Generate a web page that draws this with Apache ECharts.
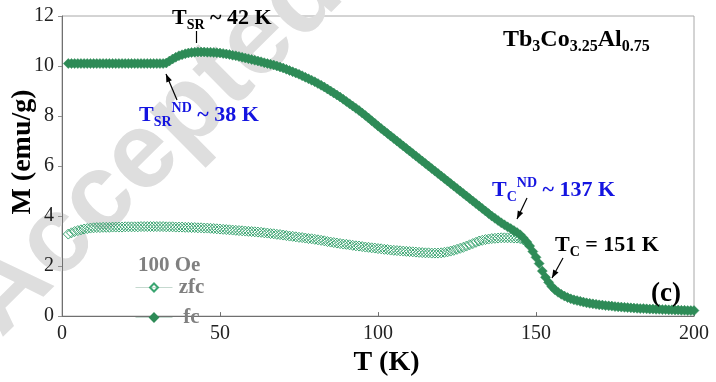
<!DOCTYPE html>
<html><head><meta charset="utf-8">
<script src="https://cdn.jsdelivr.net/npm/echarts@6/dist/echarts.min.js"></script>
<style>html,body{margin:0;padding:0;background:#fff}#c{width:716px;height:382px}</style>
</head><body><div id="c"></div>
<script>
// Temperature grid (K)
const tempsK = [2,3,4,5,6,7,8,9,10,11,12,13,14,15,16,17,18,19,20,21,22,23,24,25,26,27,28,29,30,31,32,33,34,35,36,37,38,39,40,41,42,43,44,45,46,47,48,49,50,51,52,53,54,55,56,57,58,59,60,61,62,63,64,65,66,67,68,69,70,71,72,73,74,75,76,77,78,79,80,81,82,83,84,85,86,87,88,89,90,91,92,93,94,95,96,97,98,99,100,101,102,103,104,105,106,107,108,109,110,111,112,113,114,115,116,117,118,119,120,121,122,123,124,125,126,127,128,129,130,131,132,133,134,135,136,137,138,139,140,141,142,143,144,145,146,147,148,149,150,151,152,153,154,155,156,157,158,159,160,161,162,163,164,165,166,167,168,169,170,171,172,173,174,175,176,177,178,179,180,181,182,183,184,185,186,187,188,189,190,191,192,193,194,195,196,197,198,199,200];
// Field-cooled magnetization (emu/g)
const fcM = [10.1,10.1,10.1,10.1,10.1,10.1,10.1,10.1,10.1,10.1,10.1,10.1,10.1,10.1,10.1,10.1,10.1,10.1,10.1,10.1,10.1,10.1,10.1,10.1,10.1,10.1,10.1,10.1,10.1,10.1,10.1,
10.12,10.2,10.28,10.35,10.41,10.45,10.49,10.52,10.54,10.55,10.56,10.56,10.56,10.55,10.55,10.54,10.53,10.52,10.5,10.48,10.46,10.43,10.41,10.38,10.35,10.32,10.29,10.26,10.23,10.2,10.17,10.13,10.1,10.07,10.04,10.0,9.96,9.92,9.87,9.82,9.77,9.72,9.67,9.61,9.55,9.49,9.43,9.37,9.3,9.23,9.16,9.08,9.0,8.92,8.84,8.76,8.67,8.58,8.49,8.4,8.31,8.22,8.12,8.02,7.92,7.81,7.71,
7.6,7.5,7.4,7.3,7.2,7.1,7.0,6.9,6.8,6.7,6.6,6.5,6.4,6.3,6.2,6.1,6.0,5.9,5.8,5.7,5.6,5.5,5.4,5.3,5.2,5.1,5.0,4.9,4.8,4.7,4.6,4.5,4.4,4.3,4.2,4.1,4.0,
3.91,3.82,3.73,3.65,3.57,3.5,3.42,3.34,3.25,3.12,2.97,2.8,2.58,2.35,2.1,1.8,1.55,1.35,1.18,1.05,0.95,0.87,0.8,0.74,0.69,0.65,0.62,0.59,0.56,0.53,0.51,0.49,0.47,0.45,0.44,0.42,0.41,0.4,0.38,0.37,0.36,0.35,0.34,0.33,0.32,0.31,0.3,0.3,0.29,0.28,0.28,0.27,0.27,0.26,0.26,0.25,0.25,0.24,0.24,0.23,0.23,0.22,0.22,0.22];
// Zero-field-cooled magnetization (emu/g), T = 2..147 K
const zfcM = [3.28,3.33,3.38,3.42,3.45,3.48,3.5,3.52,3.53,3.54,3.54,3.55,3.55,3.55,3.56,3.56,3.56,3.56,3.57,3.57,3.57,3.57,3.57,3.58,3.58,3.58,3.58,3.58,3.58,3.58,3.58,3.57,3.57,3.57,3.56,3.56,3.56,3.55,3.55,3.54,3.54,3.53,3.53,3.52,3.52,3.51,3.5,3.49,3.48,3.47,3.46,3.45,3.44,3.43,3.42,3.41,3.4,3.39,3.38,3.37,3.36,3.35,3.33,3.32,3.3,3.29,3.27,3.26,3.24,3.22,3.2,3.19,3.17,3.15,3.14,3.12,3.1,3.09,3.07,3.05,3.03,3.01,2.98,2.96,2.94,2.92,2.9,2.88,2.87,2.85,2.83,2.81,2.8,2.78,2.76,2.75,2.73,2.72,2.7,2.69,2.67,2.66,2.64,2.63,2.62,2.61,2.6,2.59,2.58,2.57,2.56,2.55,2.54,2.53,2.53,2.52,2.52,2.52,2.53,2.55,2.57,2.6,2.63,2.67,2.71,2.75,2.8,2.85,2.9,2.95,3.0,3.03,3.06,3.08,3.1,3.11,3.12,3.13,3.13,3.13,3.13,3.12,3.12,3.1,3.05,2.95];
const seriesNames = ['zfc', 'fc'];
const fieldLabel = '100 Oe';
const xTicks = {min: 0, max: 200, interval: 50};
const yTicks = {min: 0, max: 12, interval: 2};

const zfcData = zfcM.map((m, i) => [tempsK[i], m]);
const fcData = fcM.map((m, i) => [tempsK[i], m]);

const FF = 'Liberation Serif';
const SERIF = '"Liberation Serif", serif';
const BLUE = '#1414e0';
const GREEN = '#2e8b57';
const ZGREEN = '#3aa571';

function richStyle(main, sub, lh) {
  return {
    m: {fontSize: main, fontWeight: 'bold', fontFamily: FF, lineHeight: lh, verticalAlign: 'middle'},
    b: {fontSize: sub, fontWeight: 'bold', fontFamily: FF, verticalAlign: 'bottom'},
    p: {fontSize: sub, fontWeight: 'bold', fontFamily: FF, verticalAlign: 'top'}
  };
}
function label(text, x, y, color, main, sub, lh) {
  return {type: 'text', x: x, y: y, z: 20, silent: true,
    style: {text: text, fill: color, rich: richStyle(main, sub, lh), align: 'left', verticalAlign: 'top',
      font: 'bold ' + main + 'px ' + SERIF}};
}
function arrow(x1, y1, x2, y2, head) {
  const els = [{type: 'line', z: 20, silent: true, shape: {x1, y1, x2, y2}, style: {stroke: '#000', lineWidth: 1.2}}];
  if (head) {
    const a = Math.atan2(y2 - y1, x2 - x1), L = 8, W = 3;
    const bx = x2 - L * Math.cos(a), by = y2 - L * Math.sin(a);
    els.push({type: 'polygon', z: 20, silent: true, shape: {points: [[x2, y2],
      [bx + W * Math.sin(a), by - W * Math.cos(a)], [bx - W * Math.sin(a), by + W * Math.cos(a)]]},
      style: {fill: '#000'}});
  }
  return els;
}

const chart = echarts.init(document.getElementById('c'), null, {renderer: 'canvas'});
chart.setOption({
  animation: false,
  backgroundColor: '#fff',
  grid: {left: 62, right: 22, top: 16, bottom: 53, show: true, borderColor: '#a8a8a8', borderWidth: 1},
  xAxis: {type: 'value', min: xTicks.min, max: xTicks.max, interval: xTicks.interval,
    name: 'T (K)', nameLocation: 'middle', nameGap: 22,
    nameTextStyle: {fontFamily: FF, fontWeight: 'bold', fontSize: 28, color: '#000', padding: [0, 0, 0, 17], verticalAlign: 'top'},
    axisLine: {lineStyle: {color: '#707070', width: 1}},
    axisTick: {inside: true, length: 4, lineStyle: {color: '#707070'}},
    axisLabel: {fontFamily: FF, fontSize: 20, color: '#222', margin: 8},
    splitLine: {show: false}},
  yAxis: {type: 'value', min: yTicks.min, max: yTicks.max, interval: yTicks.interval,
    axisLine: {show: true, lineStyle: {color: '#707070', width: 1}},
    axisTick: {show: true, inside: false, length: 4, lineStyle: {color: '#909090'}},
    axisLabel: {fontFamily: FF, fontSize: 20, color: '#222', margin: 8},
    splitLine: {show: false}},
  legend: {orient: 'vertical', left: 130, top: 272, data: seriesNames,
    itemWidth: 37, itemHeight: 10, itemGap: 9, selectedMode: false,
    lineStyle: {color: '#c5d9cf', width: 1, opacity: 1},
    formatter: '{a|{name}}',
    textStyle: {fontFamily: FF, fontWeight: 'bold', fontSize: 21, color: '#808080', lineHeight: 20,
      rich: {a: {width: 28, align: 'center', fontFamily: FF, fontWeight: 'bold', fontSize: 21, color: '#808080'}}}},
  series: [
    {name: seriesNames[0], type: 'line', data: zfcData, symbol: 'diamond', symbolSize: 10, showSymbol: true,
      lineStyle: {opacity: 0, width: 1}, silent: true, z: 3,
      itemStyle: {color: 'rgba(255,255,255,0)', borderColor: ZGREEN, borderWidth: 1}},
    {name: seriesNames[1], type: 'line', data: fcData, symbol: 'diamond', symbolSize: 10, showSymbol: true,
      lineStyle: {opacity: 0, width: 1}, silent: true, z: 4,
      itemStyle: {color: GREEN, borderColor: GREEN, borderWidth: 0.5}}
  ],
  graphic: [
    {type: 'text', x: 18, y: 356, rotation: 0.78, z: 0, silent: true,
      style: {text: 'Accepted Manuscript', font: 'bold 108px "Liberation Sans", sans-serif', fill: '#dedede', align: 'left', verticalAlign: 'bottom'}},
    {type: 'text', x: 22.5, y: 152, rotation: Math.PI / 2, z: 20, silent: true,
      style: {text: 'M (emu/g)', font: 'bold 28px ' + SERIF, fill: '#000', align: 'center', verticalAlign: 'middle'}},
    {type: 'text', x: 138, y: 255, z: 20, silent: true,
      style: {text: fieldLabel, font: 'bold 21px ' + SERIF, fill: '#808080', align: 'left', verticalAlign: 'top'}},
    label('{m|T}{b|SR}{m| ~ 42 K}', 172, 4, '#000', 22, 14, 28),
    label('{m|T}{b|SR}{p|ND}{m| ~ 38 K}', 139, 101, BLUE, 22, 14, 28),
    label('{m|Tb}{b|3}{m|Co}{b|3.25}{m|Al}{b|0.75}', 503, 24, '#000', 24, 16, 31),
    label('{m|T}{b|C}{p|ND}{m| ~ 137 K}', 492, 176, BLUE, 22, 14, 28),
    label('{m|T}{b|C}{m| = 151 K}', 555, 231, '#000', 22, 14, 28),
    {type: 'text', x: 651, y: 281, z: 20, silent: true,
      style: {text: '(c)', font: 'bold 27px ' + SERIF, fill: '#000', align: 'left', verticalAlign: 'top'}},
    ...arrow(196.5, 31, 196.5, 43, false),
    ...arrow(177, 100, 166, 74, true),
    ...arrow(527, 198, 517, 219, true),
    ...arrow(563, 258, 552, 278, true)
  ]
});
</script></body></html>
